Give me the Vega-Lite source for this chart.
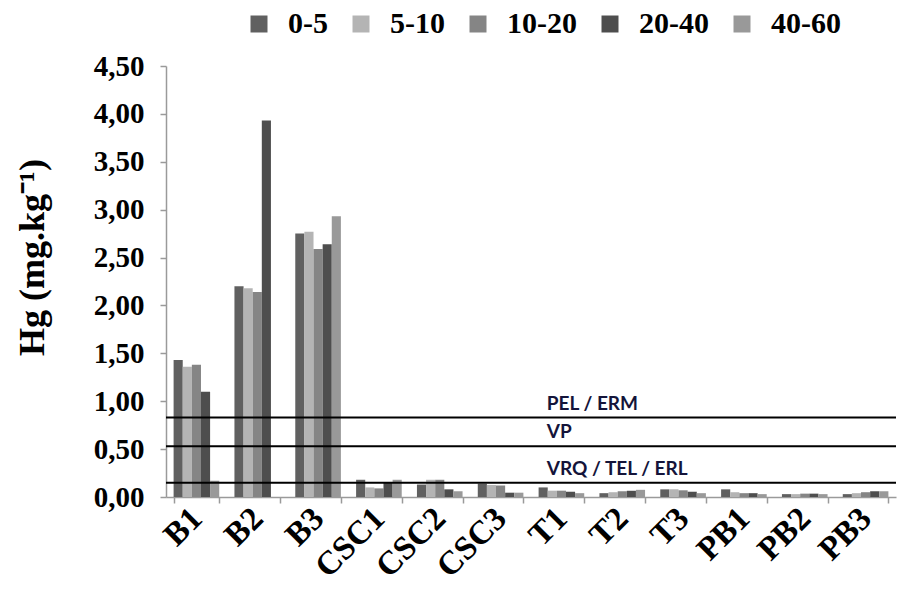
{
  "$schema": "https://vega.github.io/schema/vega-lite/v6.json",
  "width": 730,
  "height": 431,
  "autosize": {"type": "none"},
  "padding": {"left": 166, "top": 66, "right": 1, "bottom": 109},
  "background": "white",
  "config": {"view": {"stroke": null}},
  "datasets": {
    "hg": [
      {"site": "B1", "depth": "0-5", "value": 1.43},
      {"site": "B1", "depth": "5-10", "value": 1.36},
      {"site": "B1", "depth": "10-20", "value": 1.38},
      {"site": "B1", "depth": "20-40", "value": 1.10},
      {"site": "B1", "depth": "40-60", "value": 0.17},
      {"site": "B2", "depth": "0-5", "value": 2.20},
      {"site": "B2", "depth": "5-10", "value": 2.18},
      {"site": "B2", "depth": "10-20", "value": 2.14},
      {"site": "B2", "depth": "20-40", "value": 3.93},
      {"site": "B2", "depth": "40-60", "value": 0},
      {"site": "B3", "depth": "0-5", "value": 2.75},
      {"site": "B3", "depth": "5-10", "value": 2.77},
      {"site": "B3", "depth": "10-20", "value": 2.59},
      {"site": "B3", "depth": "20-40", "value": 2.64},
      {"site": "B3", "depth": "40-60", "value": 2.93},
      {"site": "CSC1", "depth": "0-5", "value": 0.18},
      {"site": "CSC1", "depth": "5-10", "value": 0.10},
      {"site": "CSC1", "depth": "10-20", "value": 0.09},
      {"site": "CSC1", "depth": "20-40", "value": 0.15},
      {"site": "CSC1", "depth": "40-60", "value": 0.18},
      {"site": "CSC2", "depth": "0-5", "value": 0.13},
      {"site": "CSC2", "depth": "5-10", "value": 0.18},
      {"site": "CSC2", "depth": "10-20", "value": 0.18},
      {"site": "CSC2", "depth": "20-40", "value": 0.08},
      {"site": "CSC2", "depth": "40-60", "value": 0.06},
      {"site": "CSC3", "depth": "0-5", "value": 0.14},
      {"site": "CSC3", "depth": "5-10", "value": 0.125},
      {"site": "CSC3", "depth": "10-20", "value": 0.12},
      {"site": "CSC3", "depth": "20-40", "value": 0.045},
      {"site": "CSC3", "depth": "40-60", "value": 0.045},
      {"site": "T1", "depth": "0-5", "value": 0.10},
      {"site": "T1", "depth": "5-10", "value": 0.066},
      {"site": "T1", "depth": "10-20", "value": 0.066},
      {"site": "T1", "depth": "20-40", "value": 0.055},
      {"site": "T1", "depth": "40-60", "value": 0.04},
      {"site": "T2", "depth": "0-5", "value": 0.04},
      {"site": "T2", "depth": "5-10", "value": 0.05},
      {"site": "T2", "depth": "10-20", "value": 0.06},
      {"site": "T2", "depth": "20-40", "value": 0.065},
      {"site": "T2", "depth": "40-60", "value": 0.075},
      {"site": "T3", "depth": "0-5", "value": 0.08},
      {"site": "T3", "depth": "5-10", "value": 0.08},
      {"site": "T3", "depth": "10-20", "value": 0.07},
      {"site": "T3", "depth": "20-40", "value": 0.055},
      {"site": "T3", "depth": "40-60", "value": 0.04},
      {"site": "PB1", "depth": "0-5", "value": 0.08},
      {"site": "PB1", "depth": "5-10", "value": 0.05},
      {"site": "PB1", "depth": "10-20", "value": 0.04},
      {"site": "PB1", "depth": "20-40", "value": 0.04},
      {"site": "PB1", "depth": "40-60", "value": 0.03},
      {"site": "PB2", "depth": "0-5", "value": 0.03},
      {"site": "PB2", "depth": "5-10", "value": 0.03},
      {"site": "PB2", "depth": "10-20", "value": 0.035},
      {"site": "PB2", "depth": "20-40", "value": 0.035},
      {"site": "PB2", "depth": "40-60", "value": 0.03},
      {"site": "PB3", "depth": "0-5", "value": 0.03},
      {"site": "PB3", "depth": "5-10", "value": 0.04},
      {"site": "PB3", "depth": "10-20", "value": 0.05},
      {"site": "PB3", "depth": "20-40", "value": 0.06},
      {"site": "PB3", "depth": "40-60", "value": 0.06}
    ],
    "limits": [
      {"site": "T1", "value": 0.83, "label": "PEL / ERM"},
      {"site": "T1", "value": 0.53, "label": "VP"},
      {"site": "T1", "value": 0.15, "label": "VRQ / TEL / ERL"}
    ]
  },
  "layer": [
    {
      "data": {"name": "hg"},
      "mark": {"type": "bar"},
      "encoding": {
        "x": {
          "field": "site",
          "type": "nominal",
          "scale": {
            "domain": ["B1", "B2", "B3", "CSC1", "CSC2", "CSC3", "T1", "T2", "T3", "PB1", "PB2", "PB3"],
            "paddingInner": 0.25,
            "paddingOuter": 0.125
          },
          "axis": {
            "title": null,
            "domainColor": "#9a9a9a",
            "domainWidth": 1.5,
            "tickColor": "#9a9a9a",
            "tickWidth": 1.5,
            "tickSize": 6,
            "tickBand": "extent",
            "labelAngle": -45,
            "labelAlign": "right",
            "labelBaseline": "middle",
            "labelPadding": 10,
            "labelFont": "Liberation Serif",
            "labelFontWeight": "bold",
            "labelFontSize": 33,
            "labelColor": "#000000"
          }
        },
        "xOffset": {
          "field": "depth",
          "type": "nominal",
          "sort": ["0-5", "5-10", "10-20", "20-40", "40-60"],
          "scale": {"paddingInner": 0, "paddingOuter": 0}
        },
        "y": {
          "field": "value",
          "type": "quantitative",
          "scale": {"domain": [0, 4.5], "nice": false},
          "axis": {
            "title": "Hg (mg.kg⁻¹)",
            "titleFont": "Liberation Serif",
            "titleFontWeight": "bold",
            "titleFontSize": 36,
            "titleColor": "#000000",
            "titleAngle": -90,
            "titleBaseline": "middle",
            "titleAlign": "center",
            "titleX": -134,
            "titleY": 191,
            "values": [0, 0.5, 1, 1.5, 2, 2.5, 3, 3.5, 4, 4.5],
            "labelExpr": "replace(format(datum.value, '.2f'), '.', ',')",
            "labelFont": "Liberation Serif",
            "labelFontWeight": "bold",
            "labelFontSize": 29,
            "labelColor": "#000000",
            "labelPadding": 16,
            "grid": false,
            "domainColor": "#9a9a9a",
            "domainWidth": 1.5,
            "tickColor": "#9a9a9a",
            "tickWidth": 1.5,
            "tickSize": 6
          }
        },
        "color": {
          "field": "depth",
          "type": "nominal",
          "sort": ["0-5", "5-10", "10-20", "20-40", "40-60"],
          "scale": {
            "domain": ["0-5", "5-10", "10-20", "20-40", "40-60"],
            "range": ["#606060", "#b4b4b4", "#858585", "#4e4e4e", "#999999"]
          },
          "legend": {
            "title": null,
            "orient": "none",
            "direction": "horizontal",
            "legendX": 78,
            "legendY": -57,
            "symbolType": "square",
            "symbolSize": 289,
            "symbolStrokeWidth": 0,
            "labelFont": "Liberation Serif",
            "labelFontWeight": "bold",
            "labelFontSize": 30,
            "labelColor": "#000000",
            "labelOffset": 14,
            "columnPadding": 18
          }
        }
      }
    },
    {
      "data": {"name": "limits"},
      "mark": {"type": "rule", "color": "#000000", "strokeWidth": 2},
      "encoding": {
        "y": {"field": "value", "type": "quantitative"}
      }
    },
    {
      "data": {"name": "limits"},
      "mark": {
        "type": "text",
        "align": "left",
        "baseline": "bottom",
        "dy": -4,
        "font": "Lato",
        "fontWeight": "bold",
        "fontSize": 19,
        "color": "#14143a"
      },
      "encoding": {
        "x": {"field": "site", "type": "nominal", "bandPosition": 0.18},
        "y": {"field": "value", "type": "quantitative"},
        "text": {"field": "label"}
      }
    }
  ]
}
